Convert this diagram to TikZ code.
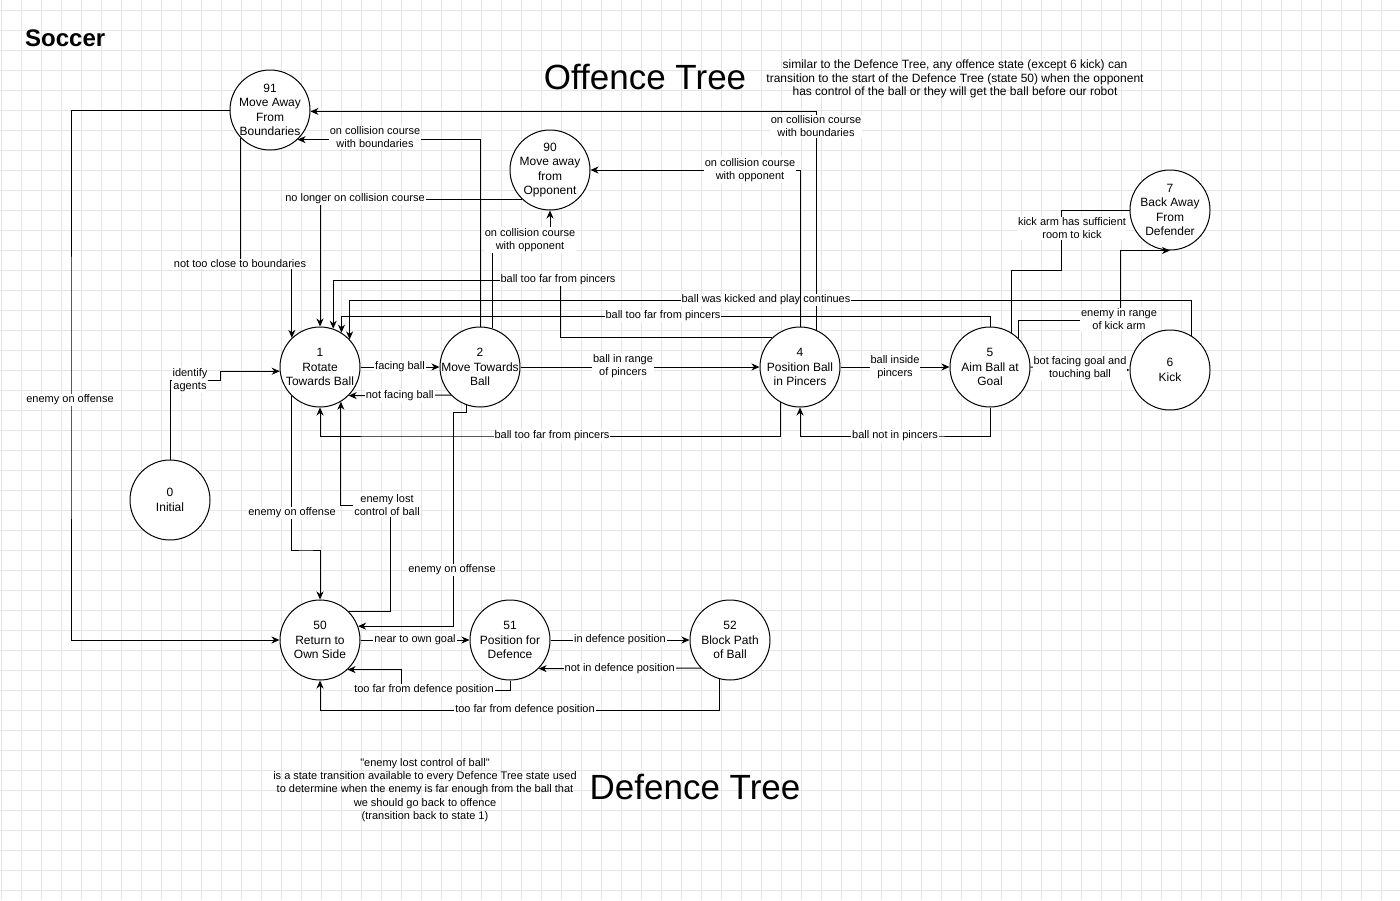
\documentclass[tikz,border=0pt]{standalone}
\usepackage{fontspec}
\setmainfont{Liberation Sans}
\usetikzlibrary{arrows.meta}

\begin{document}
\begin{tikzpicture}[x=1pt,y=-1pt,
  state/.style={circle,draw,fill=white,line width=1pt,minimum size=80pt,inner sep=0pt},
  statetext/.style={align=center,inner sep=0pt,font=\fontsize{12}{14.4}\selectfont},
  trans/.style={-{Stealth[length=8pt,width=7pt,inset=2.5pt]},line width=1pt},
  plainline/.style={line width=1pt},
  lbl/.style={fill=white,align=center,inner sep=1pt,font=\fontsize{11}{13}\selectfont},
  gridline/.style={black!10,line width=0.6pt}]

  \useasboundingbox (0,0) rectangle (1400,900);
  \fill[white] (0,0) rectangle (1400,900);
  \foreach \gx in {1,21,...,1381} \draw[gridline] (\gx,0) -- (\gx,900);
  \foreach \gy in {10,30,...,890} \draw[gridline] (0,\gy) -- (1400,\gy);

  \node (TITLE) at (25,38) [anchor=west,inner sep=0pt,font=\bfseries\fontsize{24}{28}\selectfont] {Soccer};
  \node (OFFT) at (645,77) [inner sep=0pt,font=\fontsize{35}{42}\selectfont] {Offence Tree};
  \node (DEFT) at (695,787) [inner sep=0pt,font=\fontsize{35}{42}\selectfont] {Defence Tree};
  \node (ONOTE) at (955,79) [align=center,inner sep=0pt,font=\fontsize{12}{13.8}\selectfont]
    {similar to the Defence Tree, any offence state (except 6 kick) can\\
     transition to the start of the Defence Tree (state 50) when the opponent\\
     has control of the ball or they will get the ball before our robot};
  \node (DNOTE) at (425,790) [align=center,inner sep=0pt,font=\fontsize{11}{13.4}\selectfont]
    {\textquotedbl enemy lost control of ball\textquotedbl\\
     is a state transition available to every Defence Tree state used\\
     to determine when the enemy is far enough from the ball that\\
     we should go back to offence\\
     (transition back to state 1)};

  \node[state,label={[statetext]center:{0\\Initial}}] (S0) at (170,500) {};
  \node[state,label={[statetext]center:{1\\Rotate\\Towards Ball}}] (S1) at (320,367) {};
  \node[state,label={[statetext]center:{2\\Move Towards\\Ball}}] (S2) at (480,367) {};
  \node[state,label={[statetext]center:{4\\Position Ball\\in Pincers}}] (S4) at (800,367) {};
  \node[state,label={[statetext]center:{5\\Aim Ball at\\Goal}}] (S5) at (990,367) {};
  \node[state,label={[statetext]center:{6\\Kick}}] (S6) at (1170,370) {};
  \node[state,label={[statetext]center:{7\\Back Away\\From\\Defender}}] (S7) at (1170,210) {};
  \node[state,label={[statetext]center:{90\\Move away\\from\\Opponent}}] (S90) at (550,170) {};
  \node[state,label={[statetext]center:{91\\Move Away\\From\\Boundaries}}] (S91) at (270,110) {};
  \node[state,label={[statetext]center:{50\\Return to\\Own Side}}] (S50) at (320,640) {};
  \node[state,label={[statetext]center:{51\\Position for\\Defence}}] (S51) at (510,640) {};
  \node[state,label={[statetext]center:{52\\Block Path\\of Ball}}] (S52) at (730,640) {};

  \draw[trans] (S0.north) |- (220,380) |- (S1.186) node[lbl] at (190,380) {identify\\agents};
  \draw[trans] (S1.east) -- (S2.west) node[lbl,midway] {facing ball};
  \draw[trans] (S2.224.4) -- (S1.315.6) node[lbl,midway] {not facing ball};
  \draw[trans] (S90.226.5) -| (S1.north) node[lbl] at (355,199) {no longer on collision course};
  \draw[trans] (S91.223.5) |- (S1.134.4 |- 0,264) -- (S1.134.4) node[lbl] at (240,264) {not too close to boundaries};
  \draw[trans] (S2.north) |- (S91.313.5) node[lbl] at (375,137.5) {on collision course\\with boundaries};
  \draw[trans] (S2.72.5) |- (530,240) -| (S90.south) node[lbl] at (530,240) {on collision course\\with opponent};
  \draw[trans] (S4.66.4) |- (S91.358.6) node[lbl] at (816,126.5) {on collision course\\with boundaries};
  \draw[trans] (S6.58.3) |- (S1.43.5 |- 0,300) -- (S1.43.5) node[lbl] at (766,300) {ball was kicked and play continues};
  \draw[trans] (S4.north) |- (S90.east) node[lbl] at (750,170) {on collision course\\with opponent};
  \draw[trans] (S4.133.5) -| (560,280) -| (S1.71) node[lbl] at (558,280) {ball too far from pincers};
  \draw[trans] (S5.north) |- (S1.58.3 |- 0,316) -- (S1.58.3) node[lbl] at (663,316) {ball too far from pincers};
  \draw[trans] (S4.241.6) |- (400,436) -| (S1.south) node[lbl] at (552,436) {ball too far from pincers};
  \draw[trans] (S2.east) -- (S4.west) node[lbl] at (623,366) {ball in range\\of pincers};
  \draw[trans] (S4.east) -- (S5.west) node[lbl,midway] {ball inside\\pincers};
  \draw[trans] (S5.south) |- (900,436) -| (S4.south) node[lbl] at (895,436) {ball not in pincers};
  \draw[trans] (S5.east) -- (S6.west) node[lbl,midway] {bot facing goal and\\touching ball};
  \draw[plainline] (S7.west) -| (1061,270) -| (S5.58.3) node[lbl] at (1072,228.5) {kick arm has sufficient\\room to kick};
  \draw[trans] (S5.45.6) |- (1120,320) |- (S7.south) node[lbl] at (1119,319.5) {enemy in range\\of kick arm};

  \draw[trans] (S1.225.6) |- (306,550) -| (S50.north) node[lbl] at (292,513) {enemy on offense};
  \draw[trans] (S50.44.4) -| (390,505) -| (S1.301.7) node[lbl] at (387,505) {enemy lost\\control of ball};
  \draw[trans] (S2.251) |- (453,412) |- (S50.20.5) node[lbl] at (452,570) {enemy on offense};
  \draw[trans] (S91.west) -| (71,400) |- (S50.west) node[lbl] at (70,400) {enemy on offense};

  \draw[trans] (S50.east) -- (S51.west) node[lbl,midway] {near to own goal};
  \draw[trans] (S51.east) -- (S52.west) node[lbl,midway] {in defence position};
  \draw[trans] (S52.224.4) -- (S51.315.6) node[lbl,midway] {not in defence position};
  \draw[trans] (S51.south) |- (401,690) |- (S50.313.5) node[lbl] at (424,690) {too far from defence position};
  \draw[trans] (S52.255.5) |- (500,710) -| (S50.south) node[lbl] at (525,710) {too far from defence position};

\end{tikzpicture}
\end{document}
